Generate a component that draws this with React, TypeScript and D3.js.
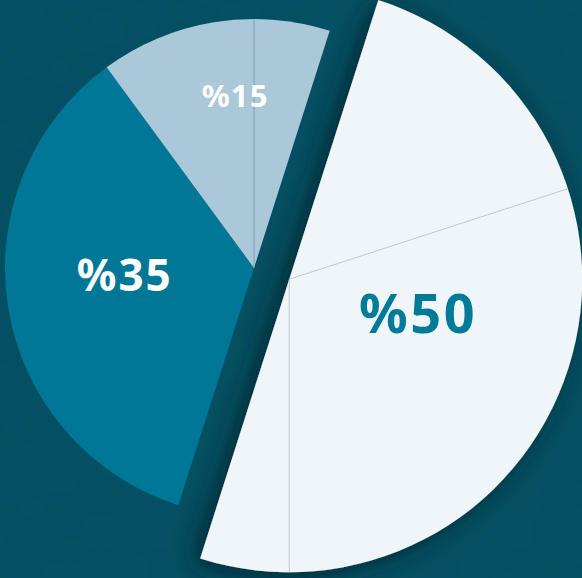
import React from "react";
import * as d3 from "d3";

// slice values, labels and colours, in drawing order (clockwise from the split)
const shares = [50, 35, 15];
const labels = ["%50", "%35", "%15"];
const sliceColors = ["#eff5f9", "#007797", "#aac8d8"];
const labelColors = ["#007a99", "#ffffff", "#ffffff"];
const labelSizes = [54, 44, 31];
const labelSpacing = [2.5, 2, 1.2];
const labelRadius = [131, 129, 172];
const labelNudge = [
  [4, -7],
  [-2, -15],
  [9, -3],
];

// thin guide strokes inside the slices (degrees from 12 o'clock)
const guideSmall = [0];
const guideBig = [72, 180];

const W = 582;
const H = 578;
const cx = 254;
const cy = 268;
const r = 249;
const rBig = 293;
const explode = 37;
const startDeg = 17.7;

export default function App() {
  const rad = (d: number) => (d * Math.PI) / 180;

  const pie = d3
    .pie<number>()
    .sort(null)
    .value((d) => d)
    .startAngle(rad(startDeg))
    .endAngle(rad(startDeg + 360));
  const arcs = pie(shares);

  const arcSmall = d3.arc<any>().innerRadius(0).outerRadius(r);
  const arcBig = d3.arc<any>().innerRadius(0).outerRadius(rBig);

  const big = arcs[0];
  const mid = (big.startAngle + big.endAngle) / 2;
  const ox = Math.sin(mid) * explode;
  const oy = -Math.cos(mid) * explode;

  const labelPos = (a: any, i: number) => {
    const m = (a.startAngle + a.endAngle) / 2;
    return [
      Math.sin(m) * labelRadius[i] + labelNudge[i][0],
      -Math.cos(m) * labelRadius[i] + labelNudge[i][1],
    ];
  };

  const label = (a: any, i: number) => {
    const [lx, ly] = labelPos(a, i);
    return (
      <text
        key={i}
        x={lx}
        y={ly}
        textAnchor="middle"
        dominantBaseline="central"
        fontFamily="'Noto Sans', sans-serif"
        fontWeight={700}
        fontSize={labelSizes[i]}
        letterSpacing={labelSpacing[i]}
        fill={labelColors[i]}
      >
        {labels[i]}
      </text>
    );
  };

  return (
    <div style={{ position: "fixed", left: 0, top: 0, width: W, height: H }}>
      <svg width={W} height={H} style={{ display: "block" }}>
        <defs>
          <filter id="tex" x="0" y="0" width="100%" height="100%">
            <feTurbulence type="fractalNoise" baseFrequency="0.018" numOctaves="2" seed="4" />
            <feColorMatrix
              type="matrix"
              values="0 0 0 0 0  0 0 0 0 0.1  0 0 0 0 0.15  0 0 0 -1.4 0.85"
            />
          </filter>
          <filter id="shadow" x="-30%" y="-30%" width="160%" height="160%">
            <feDropShadow dx={-7} dy={4} stdDeviation={13} floodColor="#00202b" floodOpacity={0.85} />
          </filter>
        </defs>
        <rect width={W} height={H} fill="#055062" />
        <rect width={W} height={H} filter="url(#tex)" opacity={0.35} />

        {/* exploded big slice */}
        <g transform={`translate(${cx + ox},${cy + oy})`}>
          <path d={arcBig(big) || ""} fill={sliceColors[0]} filter="url(#shadow)" />
          {guideBig.map((g) => (
            <line
              key={g}
              x1={0}
              y1={0}
              x2={Math.sin(rad(g)) * rBig}
              y2={-Math.cos(rad(g)) * rBig}
              stroke="#b4c5cd"
              strokeWidth={0.9}
            />
          ))}
          {label(big, 0)}
        </g>

        <g transform={`translate(${cx},${cy})`}>
          {arcs.slice(1).map((a, j) => (
            <path key={j} d={arcSmall(a) || ""} fill={sliceColors[j + 1]} />
          ))}
          {guideSmall.map((g) => (
            <line
              key={g}
              x1={0}
              y1={0}
              x2={Math.sin(rad(g)) * r}
              y2={-Math.cos(rad(g)) * r}
              stroke="#7f9fae"
              strokeWidth={1}
            />
          ))}
          {arcs.slice(1).map((a, j) => label(a, j + 1))}
        </g>
      </svg>
    </div>
  );
}
